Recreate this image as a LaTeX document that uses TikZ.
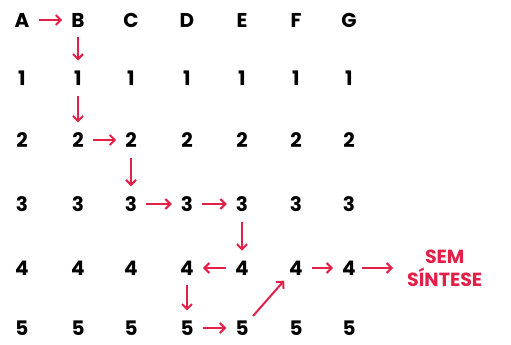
\documentclass[tikz,border=0pt]{standalone}
\usepackage{fontspec}
\setmainfont{Poppins}
\usetikzlibrary{arrows.meta}
\definecolor{synred}{RGB}{226,32,72}

\begin{document}
\begin{tikzpicture}[x=1pt,y=-1pt,
  cell/.style={font=\fontsize{20}{20}\selectfont\bfseries, inner sep=3pt},
  go/.style={synred, line width=2pt, -{Straight Barb[length=5pt,width=10pt]}, shorten >=6pt, shorten <=6pt},
  godown/.style={go, shorten >=7pt, shorten <=7pt}]
  \useasboundingbox (0,0) rectangle (511,345);
  % Header letters
  \foreach \l/\x in {A/22,B/78,C/131,D/187,E/242,F/296,G/349}
    \node[cell] (\l0) at (\x,20) {\l};
  % Rows 1 to 5
  \foreach \r/\y in {1/78,2/140,3/204,4/268,5/328}
    \foreach \l/\x in {A/22,B/78,C/131,D/187,E/242,F/296,G/349}
      \node[cell] (\l\r) at (\x,\y) {\r};
  % Result label
  \node[synred, font=\fontsize{19}{23}\selectfont\bfseries, align=center, anchor=west, inner sep=0pt] (sem) at (407,268) {SEM\\SÍNTESE};
  % Path
  \draw[go] (A0) -- (B0);
  \draw[godown] (B0) -- (B1);
  \draw[godown] (B1) -- (B2);
  \draw[go] (B2) -- (C2);
  \draw[godown] (C2) -- (C3);
  \draw[go] (C3) -- (D3);
  \draw[go] (D3) -- (E3);
  \draw[godown] (E3) -- (E4);
  \draw[go] (E4) -- (D4);
  \draw[godown] (D4) -- (D5);
  \draw[go] (D5) -- (E5);
  \draw[go, shorten <=2pt, shorten >=3pt] (E5.north east) -- (F4.south west);
  \draw[go] (F4) -- (G4);
  \draw[go, shorten <=3pt, shorten >=14pt] (G4) -- (sem);
\end{tikzpicture}
\end{document}
